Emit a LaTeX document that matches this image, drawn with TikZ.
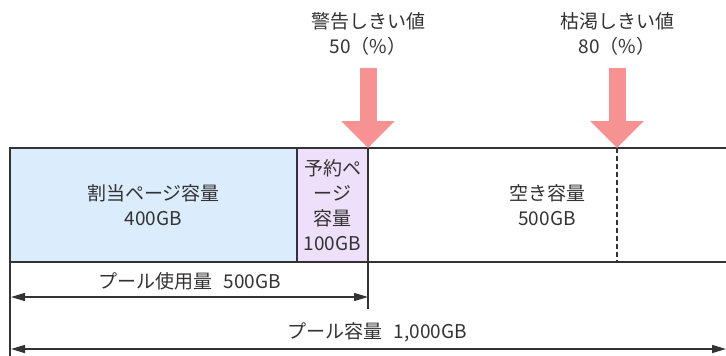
\documentclass[tikz,border=0pt]{standalone}
\usepackage{fontspec}
\setmainfont{Noto Sans CJK JP}
\usetikzlibrary{arrows.meta,positioning,calc}

\definecolor{allocblue}{RGB}{219,236,252}
\definecolor{resvpurple}{RGB}{238,224,250}
\definecolor{thrpink}{RGB}{246,146,146}
\definecolor{ink}{RGB}{51,51,51}

\begin{document}
\begin{tikzpicture}[x=1pt,y=-1pt]
  \tikzset{
    font=\fontsize{19}{25}\selectfont,
    txt/.style={text=ink,align=center,inner sep=0pt},
    block/.style={txt,draw=ink,line width=1.4pt,outer sep=0pt,minimum height=114pt},
    divider/.style={draw=ink,line width=2.4pt},
    thr/.style={draw=thrpink,line width=17pt,-{Triangle[width=52pt,length=27pt]}},
    dim/.style={draw=ink,line width=1.4pt,{Triangle[length=14pt,width=8pt]}-{Triangle[length=14pt,width=8pt]}},
  }
  \useasboundingbox (0,0) rectangle (726,356);

  \node [block,fill=allocblue,minimum width=287pt,anchor=north west] (alloc) at (10,148)
        {割当ページ容量\\400GB};
  \node [block,fill=resvpurple,minimum width=71pt] (resv) [right=0pt of alloc]
        {予約ペ\\ージ\\容量\\100GB};
  \node [block,minimum width=400pt] (free) [right=0pt of resv] {};
  \node [txt] (freetxt) at (547,205) {空き容量\\500GB};

  \node [txt] (warn) at (368,34) {警告しきい値\\50（\%）};
  \node [txt] (depl) at (617,34) {枯渇しきい値\\80（\%）};

  \coordinate (deplmark) at ($(free.north west)+(249,0)$);
  \coordinate (usedtick) at ($(resv.north east)+(0,161)$);
  \coordinate (poolend) at (10,356);

  \draw [thr] ($(warn.south)+(0,12)$) -- (resv.north east);
  \draw [thr] ($(depl.south)+(0,12)$) -- (deplmark);

  \draw [divider] (resv.north east) -- (usedtick);
  \draw [draw=ink,line width=1.4pt] (alloc.north west) -- (poolend);
  \draw [draw=ink,line width=1.4pt,dash pattern=on 5pt off 3pt] (deplmark) -- (deplmark |- free.south);

  \coordinate (ustart) at (11,297);
  \coordinate (uend) at (368,297);
  \coordinate (pstart) at (11,349);
  \coordinate (pend) at (726,349);

  \draw [dim] (ustart) -- (uend) node [txt,midway,above=6pt] (usedlbl) {プール使用量\hspace{0.6em}500GB};
  \draw [dim] (pstart) -- (pend) node [txt,pos=0.512,above=6pt] (poollbl) {プール容量\hspace{0.6em}1,000GB};
\end{tikzpicture}
\end{document}
